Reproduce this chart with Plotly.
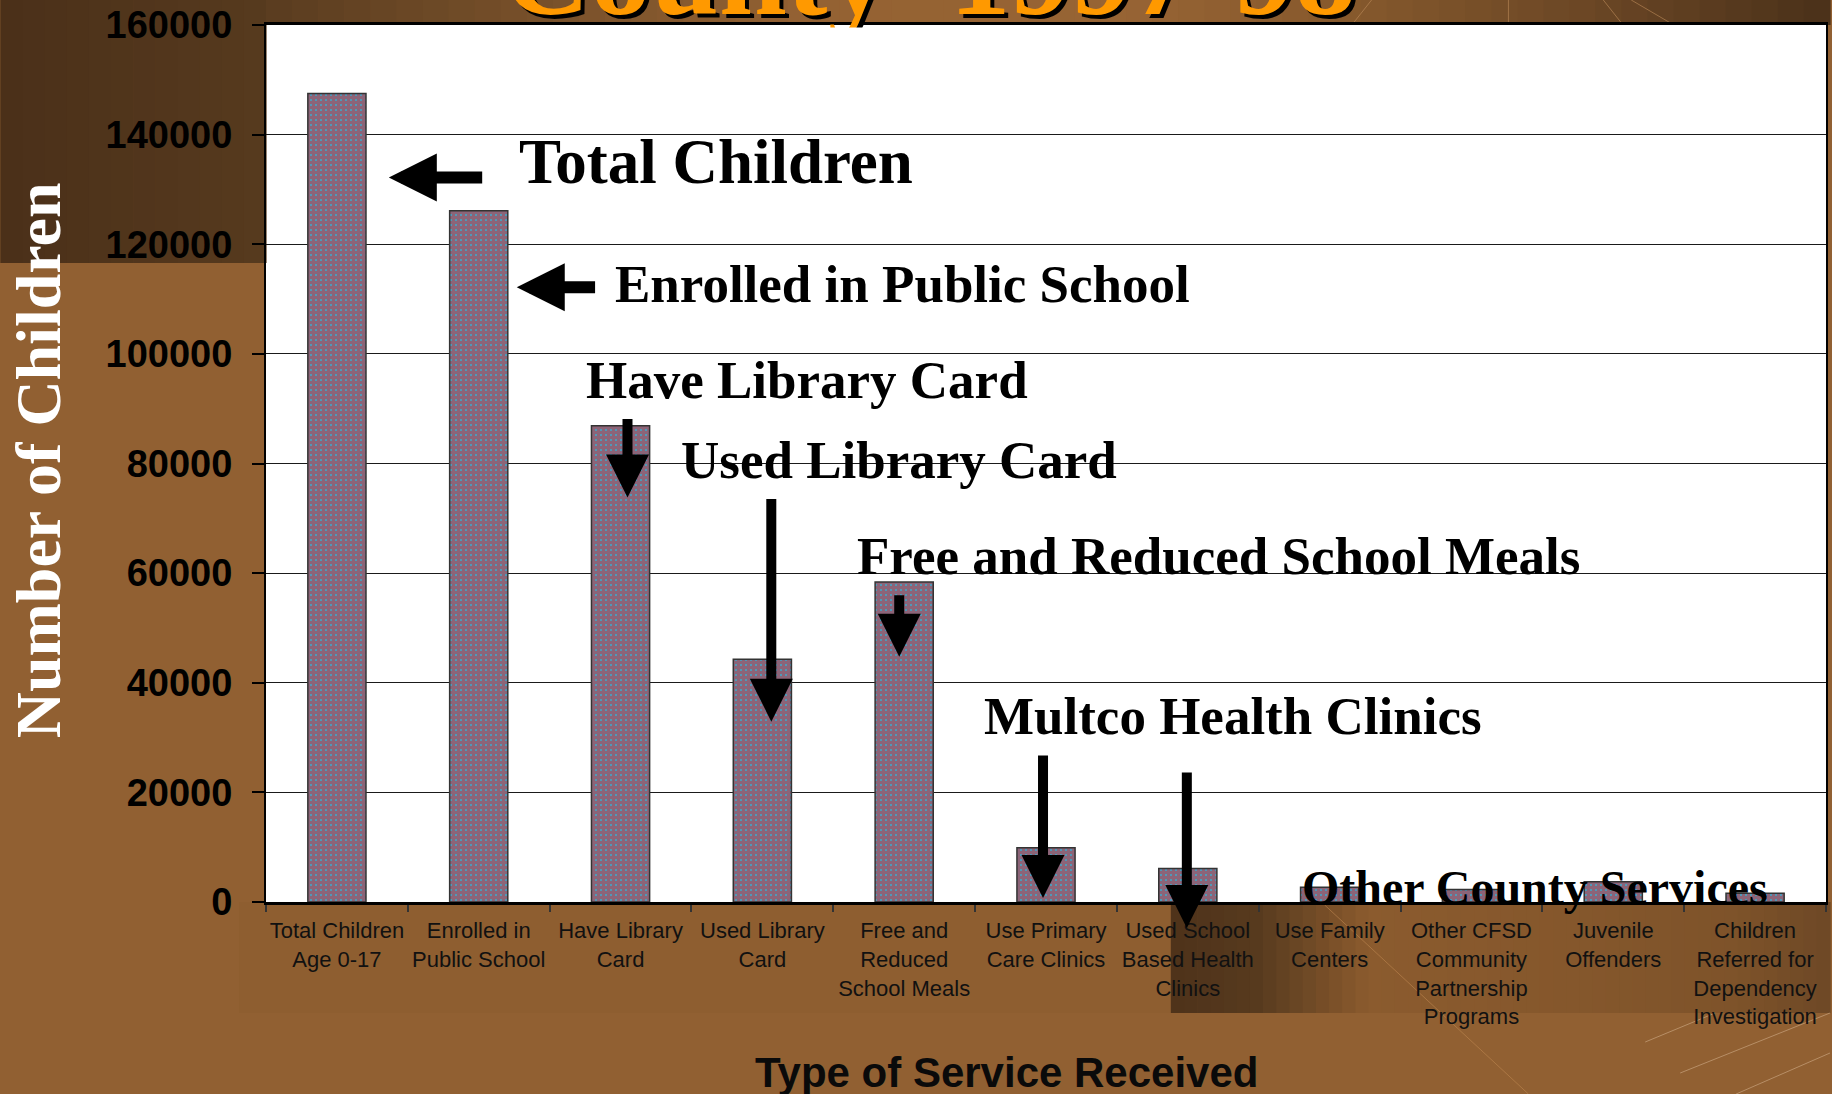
import plotly.graph_objects as go

# ---------------- data ----------------
categories = [
    "Total Children<br>Age 0-17",
    "Enrolled in<br>Public School",
    "Have Library<br>Card",
    "Used Library<br>Card",
    "Free and<br>Reduced<br>School Meals",
    "Use Primary<br>Care Clinics",
    "Used School<br>Based Health<br>Clinics",
    "Use Family<br>Centers",
    "Other CFSD<br>Community<br>Partnership<br>Programs",
    "Juvenile<br>Offenders",
    "Children<br>Referred for<br>Dependency<br>Investigation",
]
children = [147500, 126100, 86900, 44300, 58400, 9900, 6100, 2700, 2300, 3700, 1600]
y_tick_values = [0, 20000, 40000, 60000, 80000, 100000, 120000, 140000, 160000]

callout_texts = [
    "Total Children",
    "Enrolled in Public School",
    "Have Library Card",
    "Used Library Card",
    "Free and Reduced School Meals",
    "Multco Health Clinics",
    "Other County Services",
]

x_title = "Type of Service Received"
y_title = "Number of Children"
slide_title = "County\u20131997-98"

# ---------------- layout geometry ----------------
W, H = 1832, 1094
L, R, T, B = 266, 4, 25, 192
PW, PH = W - L - R, H - T - B


def px2x(px):
    return (px - L) / PW


def py2y(py):
    return (H - B - py) / PH


# callout label placement (category-index x, data y) and sizes
callout_pos = [(1.27, 135000), (1.95, 112700), (1.74, 95200), (2.415, 80700),
               (3.655, 63200), (4.55, 34000), (6.79, 2560)]
callout_size = [63, 53, 53, 53, 53, 53, 48]

# arrows: (tip x, tip y, tail x, tail y, shaft width, head size)
arrow_pos = [
    (0.366, 132200, 1.035, 132200, 12, 0.8),
    (1.268, 112150, 1.831, 112150, 12, 0.8),
    (2.049, 73800, 2.049, 88400, 10, 0.86),
    (3.063, 32900, 3.063, 73800, 10, 0.86),
    (3.965, 44750, 3.965, 56250, 10, 0.86),
    (4.979, 730, 4.979, 27000, 10, 0.86),
    (5.993, -4750, 5.993, 23900, 10, 0.86),
]

fig = go.Figure()
fig.add_trace(go.Bar(
    x=categories,
    y=children,
    marker=dict(
        color="#19c8f0",
        line=dict(color="#333333", width=1.5),
        pattern=dict(shape="+", bgcolor="#19c8f0", fgcolor="#ff0000",
                     size=5, solidity=0.92),
    ),
    showlegend=False,
))


def hexmix(c1, c2, t):
    a = [int(c1[i:i + 2], 16) for i in (1, 3, 5)]
    b = [int(c2[i:i + 2], 16) for i in (1, 3, 5)]
    return "#%02x%02x%02x" % tuple(round(a[k] + (b[k] - a[k]) * t) for k in range(3))


shapes = []


def gradient(x0, x1, y0, y1, stops, n=40):
    for i in range(n):
        f = (i + 0.5) / n
        col = stops[-1][1]
        for j in range(len(stops) - 1):
            if stops[j][0] <= f <= stops[j + 1][0]:
                t = (f - stops[j][0]) / (stops[j + 1][0] - stops[j][0])
                col = hexmix(stops[j][1], stops[j + 1][1], t)
                break
        xa = x0 + (x1 - x0) * i / n
        xb = x0 + (x1 - x0) * (i + 1) / n + 0.6
        shapes.append(dict(type="rect", xref="paper", yref="paper", layer="below",
                           x0=px2x(xa), x1=px2x(xb), y0=py2y(y1), y1=py2y(y0),
                           fillcolor=col, line=dict(width=0)))


# top-left dark panel
gradient(0, L, 0, 263, [(0, "#4a3019"), (1, "#573a1e")], n=12)
# top strip above the plot
gradient(L, W, 0, T, [(0, "#5a3c1f"), (0.1, "#6b4826"), (0.35, "#946233"),
                      (0.55, "#976434"), (0.7, "#85582c"), (0.85, "#6a4625"),
                      (1, "#4a3119")], n=60)
# faint panel behind left tick labels
shapes.append(dict(type="rect", xref="paper", yref="paper", layer="below",
                   x0=px2x(239), x1=px2x(1172), y0=py2y(1013), y1=py2y(H - B),
                   fillcolor="#8e5e30", line=dict(width=0)))
# dark panel behind right tick labels
gradient(1172, W, H - B, 1013, [(0, "#4e321a"), (0.13, "#573a1e"), (0.3, "#8b5b2e"),
                                (0.6, "#85572c"), (0.85, "#7e532a"), (1, "#6e4826")], n=50)

# decorative thin lines
deco = [((1326, 905), (1530, 1094), "rgba(190,135,80,0.6)"),
        ((1647, 1042), (1717, 1013), "rgba(255,230,200,0.35)"),
        ((1682, 1073), (1832, 1013), "rgba(255,230,200,0.35)"),
        ((1738, 1094), (1832, 1053), "rgba(255,230,200,0.35)"),
        ((1354, 24), (1373, 0), "rgba(190,140,90,0.6)"),
        ((1510, 24), (1510, 0), "rgba(190,140,90,0.6)"),
        ((1605, 0), (1624, 24), "rgba(190,140,90,0.6)"),
        ((1633, 0), (1674, 24), "rgba(190,140,90,0.6)")]
for (a, b, c) in deco:
    shapes.append(dict(type="line", xref="paper", yref="paper", layer="below",
                       x0=px2x(a[0]), y0=py2y(a[1]), x1=px2x(b[0]), y1=py2y(b[1]),
                       line=dict(color=c, width=1)))

annotations = []
# slide title (cut off at top), shadow then orange
for dx, dy, col in [(4, 4, "#000000"), (0, 0, "#ff9900")]:
    annotations.append(dict(
        text=slide_title, xref="paper", yref="paper",
        x=px2x(500 + dx), y=py2y(42 + dy), xanchor="left", yanchor="bottom",
        showarrow=False,
        font=dict(family="Liberation Serif", size=122, color=col, weight="bold"),
    ))
# cover for title descender on the plot area
annotations.append(dict(text=".", xref="paper", yref="paper", x=px2x(700), y=py2y(27),
                        xanchor="left", yanchor="top", width=300, height=36,
                        bgcolor="#ffffff", showarrow=False, borderpad=0,
                        font=dict(size=10, color="#ffffff")))

for txt, (cx, cy), sz in zip(callout_texts, callout_pos, callout_size):
    annotations.append(dict(
        text=txt, x=cx, y=cy, xref="x", yref="y", xanchor="left", yanchor="middle",
        showarrow=False,
        font=dict(family="Liberation Serif", size=sz, color="#000000", weight="bold"),
    ))

for (tx, ty, ax, ay, w, s) in arrow_pos:
    annotations.append(dict(
        text="", x=tx, y=ty, ax=ax, ay=ay, xref="x", yref="y", axref="x", ayref="y",
        showarrow=True, arrowhead=2, arrowsize=s, arrowwidth=w,
        arrowcolor="#000000", standoff=0,
    ))

annotations.append(dict(
    text=y_title, xref="paper", yref="paper", x=px2x(38), y=py2y(460),
    xanchor="center", yanchor="middle", textangle=-90, showarrow=False,
    font=dict(family="Liberation Serif", size=64, color="#ffffff", weight="bold"),
))
annotations.append(dict(
    text=x_title, xref="paper", yref="paper", x=px2x(1007), y=py2y(1072),
    xanchor="center", yanchor="middle", showarrow=False,
    font=dict(family="Liberation Sans", size=42, color="#0a0a0a", weight="bold"),
))

fig.update_layout(
    width=W, height=H, autosize=False,
    margin=dict(l=L, r=R, t=T, b=B, pad=0),
    paper_bgcolor="#916032",
    plot_bgcolor="#ffffff",
    bargap=0.59,
    shapes=shapes,
    annotations=annotations,
    xaxis=dict(
        type="category",
        tickangle=0,
        tickfont=dict(family="Liberation Sans", size=22, color="#111111"),
        ticks="outside", ticklen=7, tickcolor="#333333", tickwidth=1.5,
        tickson="boundaries",
        showline=True, linecolor="#000000", linewidth=3, mirror=True,
        showgrid=False,
        ticklabelstandoff=7,
        fixedrange=True,
    ),
    yaxis=dict(
        range=[0, 160000],
        tickvals=y_tick_values,
        tickformat="d",
        tickfont=dict(family="Liberation Sans", size=38, color="#000000", weight="bold"),
        ticks="outside", ticklen=12, tickcolor="#000000", tickwidth=1.5,
        showline=True, linecolor="#000000", linewidth=2, mirror=True,
        showgrid=True, gridcolor="#1a1a1a", gridwidth=1.3,
        zeroline=False,
        ticklabelstandoff=12,
        fixedrange=True,
    ),
)

fig.write_html(
    "out.html",
    config={"displayModeBar": False},
    post_script="document.body.style.margin='0';document.body.style.overflow='hidden';",
)
